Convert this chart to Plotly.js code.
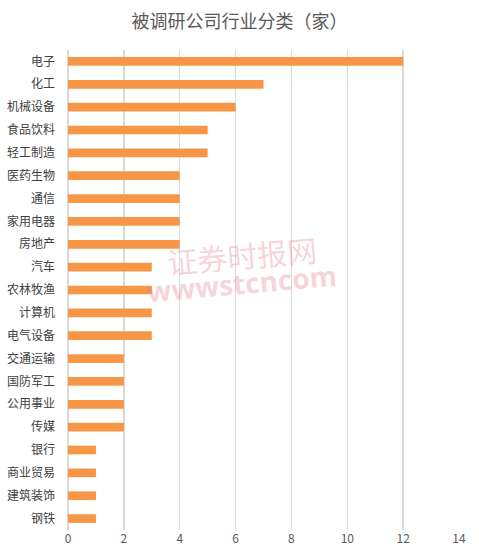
<!DOCTYPE html>
<html>
<head>
<meta charset="utf-8">
<script src="https://cdn.plot.ly/plotly-3.0.1.min.js"></script>
<style>
  html, body { margin: 0; padding: 0; background: white; }
  #chart { width: 479px; height: 557px; }
</style>
</head>
<body>
<div id="chart"></div>
<script>
// Industry categories of surveyed companies (top to bottom)
const industries = ['电子', '化工', '机械设备', '食品饮料', '轻工制造', '医药生物', '通信', '家用电器', '房地产',
    '汽车', '农林牧渔', '计算机', '电气设备', '交通运输', '国防军工', '公用事业', '传媒',
    '银行', '商业贸易', '建筑装饰', '钢铁'];
const companyCounts = [12, 7, 6, 5, 5, 4, 4, 4, 4, 3, 3, 3, 3, 2, 2, 2, 2, 1, 1, 1, 1];
const xTicks = [0, 2, 4, 6, 8, 10, 12, 14];

const cjkFont = '"Noto Sans CJK SC", "Noto Sans", sans-serif';
const watermarkColor = 'rgba(232, 120, 140, 0.32)';

const barData = [{
    type: 'bar',
    orientation: 'h',
    y: industries,
    x: companyCounts,
    marker: {color: '#F79646'},
    hoverinfo: 'x+y'
}];

const barLayout = {
    title: {
        text: '被调研公司行业分类（家）',
        font: {family: cjkFont, size: 18, color: '#595959'},
        x: 0.5,
        xanchor: 'center',
        y: 1 - 22 / 557,
        yanchor: 'middle'
    },
    xaxis: {
        range: [0, 14],
        tickvals: xTicks,
        showgrid: true,
        gridcolor: '#D9D9D9',
        gridwidth: 1.5,
        zeroline: true,
        zerolinecolor: '#D9D9D9',
        zerolinewidth: 1.5,
        tickfont: {family: cjkFont, size: 12, color: '#595959'},
        fixedrange: true
    },
    yaxis: {
        autorange: 'reversed',
        showgrid: false,
        zeroline: false,
        ticklabelstandoff: 12,
        tickfont: {family: cjkFont, size: 12, color: '#404040'},
        fixedrange: true
    },
    bargap: 0.62,
    // watermark
    annotations: [
        {
            text: '证券时报网',
            xref: 'paper', yref: 'paper',
            x: (242 - 68) / 391, y: 1 - (255 - 50) / 480,
            showarrow: false,
            textangle: -5,
            font: {family: cjkFont, size: 30, color: watermarkColor}
        },
        {
            text: 'wwwstcncom',
            xref: 'paper', yref: 'paper',
            x: (242 - 68) / 391, y: 1 - (283 - 50) / 480,
            showarrow: false,
            textangle: -5,
            font: {family: '"Open Sans", sans-serif', size: 28, weight: 'bold', color: watermarkColor}
        }
    ],
    margin: {l: 68, r: 20, t: 50, b: 27},
    plot_bgcolor: 'white',
    paper_bgcolor: 'white',
    font: {family: cjkFont, size: 12},
    showlegend: false
};

Plotly.newPlot('chart', barData, barLayout, {displayModeBar: false, staticPlot: true});
</script>
</body>
</html>
